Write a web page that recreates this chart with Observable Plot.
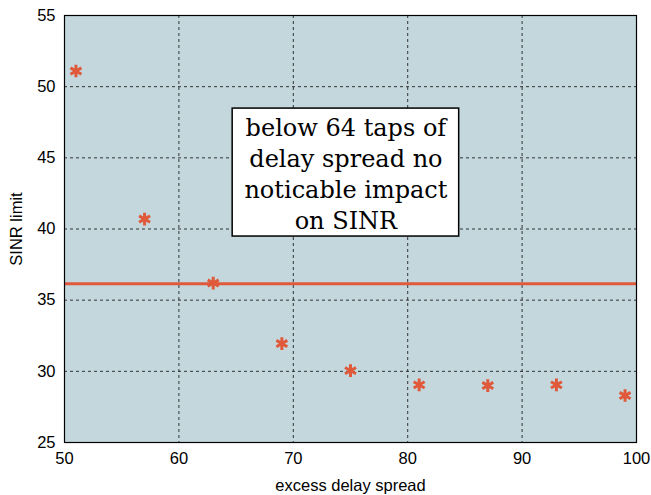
<!DOCTYPE html>
<html>
<head>
<meta charset="utf-8">
<script src="https://cdn.jsdelivr.net/npm/d3@7"></script>
<script src="https://cdn.jsdelivr.net/npm/@observablehq/plot@0.6"></script>
<style>
  html, body { margin: 0; padding: 0; background: #fff; }
  svg { display: block; }
</style>
</head>
<body>
<div id="chart"></div>
<script>
const delaySpread = [51, 57, 63, 69, 75, 81, 87, 93, 99];
const sinrLimit = [51.1, 40.7, 36.2, 31.95, 30.05, 29.05, 29.0, 29.05, 28.3];
const thresholdSINR = [36.15];
const xTicks = [50, 60, 70, 80, 90, 100];
const yTicks = [25, 30, 35, 40, 45, 50, 55];
const noteText = ["below 64 taps of\ndelay spread no\nnoticable impact\non SINR"];
const noteBox = { x1: [64.7], x2: [84.5], y1: [39.47], y2: [48.46] };

const points = delaySpread.map((d, i) => ({ x: d, y: sinrLimit[i] }));

const chart = Plot.plot({
  width: 651,
  height: 495,
  marginLeft: 64,
  marginRight: 15,
  marginTop: 15,
  marginBottom: 53,
  style: { fontFamily: "Liberation Sans, Arial, sans-serif", fontSize: "16px", background: "#fff" },
  x: { domain: [50, 100], ticks: xTicks, label: null },
  y: { domain: [25, 55], ticks: yTicks, label: null },
  marks: [
    Plot.frame({ fill: "#c3d7dd" }),
    Plot.gridX(xTicks.slice(1, -1), { stroke: "#222", strokeOpacity: 0.9, strokeDasharray: "3,3", strokeWidth: 1 }),
    Plot.gridY(yTicks.slice(1, -1), { stroke: "#222", strokeOpacity: 0.9, strokeDasharray: "3,3", strokeWidth: 1 }),
    Plot.axisX({ ticks: xTicks, tickSize: 0, tickPadding: 10, fontSize: 16.5, fill: "#000", label: "excess delay spread", labelAnchor: "center", labelArrow: "none", labelOffset: 48 }),
    Plot.axisY({ ticks: yTicks, tickSize: 0, tickPadding: 9, fontSize: 16.5, fill: "#000", label: "SINR limit", labelAnchor: "center", labelArrow: "none", labelOffset: 54 }),
    Plot.ruleY(thresholdSINR, { stroke: "#e0593a", strokeWidth: 3 }),
    Plot.dot(points, { x: "x", y: "y", symbol: "asterisk", r: 6, stroke: "#e0593a", strokeWidth: 3 }),
    Plot.rect([0], { x1: noteBox.x1, x2: noteBox.x2, y1: noteBox.y1, y2: noteBox.y2, fill: "#fff", stroke: "#000", strokeWidth: 1.5 }),
    Plot.text(noteText, { x: (noteBox.x1[0] + noteBox.x2[0]) / 2, y: (noteBox.y1[0] + noteBox.y2[0]) / 2, text: d => d, fontSize: 24, fontFamily: "DejaVu Serif, serif", lineHeight: 1.3, fill: "#000" }),
    Plot.frame({ stroke: "#000", strokeWidth: 1.2 })
  ]
});
document.getElementById("chart").appendChild(chart);
</script>
</body>
</html>
